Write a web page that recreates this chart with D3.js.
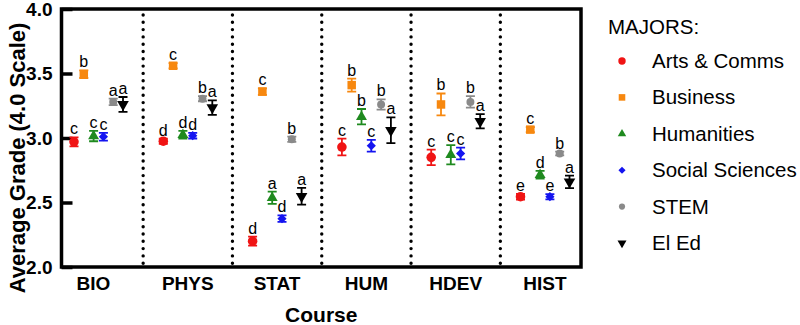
<!doctype html>
<html>
<head>
<meta charset="utf-8">
<script src="https://cdnjs.cloudflare.com/ajax/libs/d3/7.8.5/d3.min.js"></script>
<style>
  body { margin: 0; background: #fff; }
  svg { font-family: "Liberation Sans", Arial, sans-serif; }
  .frame { fill: none; stroke: #000; stroke-width: 3.5; }
  .sep { stroke: #000; stroke-width: 3.4; stroke-linecap: round; stroke-dasharray: 0 7.3; }
  .yaxis path { display: none; }
  .yaxis line { stroke: #000; stroke-width: 3.5; }
  .yaxis text { font-size: 19px; font-weight: bold; fill: #000; font-family: "Liberation Sans", Arial, sans-serif; }
  .xlab { font-size: 19px; font-weight: bold; }
  .title { font-size: 21px; font-weight: bold; }
  .ytitle { font-size: 22px; font-weight: bold; }
  .sig { font-size: 16px; fill: #000; }
  .leg { font-size: 20.5px; }
</style>
</head>
<body>
<svg width="800" height="325"></svg>
<script>
var courses = ["BIO", "PHYS", "STAT", "HUM", "HDEV", "HIST"];
var majors = ["Arts & Comms", "Business", "Humanities", "Social Sciences", "STEM", "El Ed"];
var colors = ["#f01414", "#f7880f", "#1f8a1f", "#1414f0", "#8a8a8a", "#000000"];
var yTicks = [2.0, 2.5, 3.0, 3.5, 4.0];

// mean grade per course, one array per major
var artsMean = [2.97, 2.975, 2.20, 2.93, 2.85, 2.545];
var businessMean = [3.495, 3.56, 3.36, 3.41, 3.26, 3.065];
var humanitiesMean = [3.015, 3.025, 2.537, 3.165, 2.87, 2.715];
var socialMean = [3.01, 3.018, 2.375, 2.94, 2.88, 2.545];
var stemMean = [3.28, 3.305, 2.99, 3.26, 3.28, 2.88];
var eledMean = [3.26, 3.235, 2.548, 3.06, 3.13, 2.66];

// error bar half widths
var artsErr = [0.035, 0.02, 0.035, 0.065, 0.06, 0.022];
var businessErr = [0.03, 0.02, 0.025, 0.05, 0.085, 0.02];
var humanitiesErr = [0.04, 0.03, 0.048, 0.06, 0.075, 0.03];
var socialErr = [0.03, 0.022, 0.025, 0.045, 0.045, 0.02];
var stemErr = [0.025, 0.02, 0.02, 0.04, 0.045, 0.015];
var eledErr = [0.058, 0.056, 0.065, 0.1, 0.055, 0.048];

// significance letters
var artsSig = ["c", "d", "d", "c", "c", "e"];
var businessSig = ["b", "c", "c", "b", "b", "c"];
var humanitiesSig = ["c", "d", "a", "b", "c", "d"];
var socialSig = ["c", "d", "d", "c", "c", "e"];
var stemSig = ["a", "b", "b", "b", "b", "b"];
var eledSig = ["a", "a", "a", "a", "a", "a"];

var means = [artsMean, businessMean, humanitiesMean, socialMean, stemMean, eledMean];
var errs = [artsErr, businessErr, humanitiesErr, socialErr, stemErr, eledErr];
var sigs = [artsSig, businessSig, humanitiesSig, socialSig, stemSig, eledSig];

var points = [];
majors.forEach(function (m, j) {
  courses.forEach(function (c, i) {
    points.push({ course: c, major: m, j: j, mean: means[j][i], err: errs[j][i], sig: sigs[j][i] });
  });
});

var svg = d3.select("svg");
var plotL = 61.5, plotR = 581, plotT = 9, plotB = 267;

var y = d3.scaleLinear().domain([2, 4]).range([plotB, plotT]);
var x = d3.scalePoint().domain(courses).range([98.5, 545]);
var off = d3.scalePoint().domain(majors).range([-24.5, 24.5]);
var step = x.step();

function marker(j, s) {
  if (j === 0) return d3.symbol(d3.symbolCircle, 72 * s)();
  if (j === 1) return d3.symbol(d3.symbolSquare, 72 * s)();
  if (j === 2) return d3.symbol(d3.symbolTriangle, 52 * s)();
  if (j === 3) { var r = 4.6 * Math.sqrt(s); return "M0," + (-r) + "L" + r + ",0L0," + r + "L" + (-r) + ",0Z"; }
  if (j === 4) return d3.symbol(d3.symbolCircle, 50 * s)();
  return d3.symbol(d3.symbolTriangle, 58 * s)();
}

// dotted separators
svg.selectAll("line.sep").data(courses.slice(1)).enter().append("line")
  .attr("class", "sep")
  .attr("x1", function (d) { return x(d) - step / 2; })
  .attr("x2", function (d) { return x(d) - step / 2; })
  .attr("y1", plotT + 6).attr("y2", plotB);

// y axis with inward ticks
svg.append("g").attr("class", "yaxis")
  .attr("transform", "translate(" + plotL + ",0)")
  .call(d3.axisLeft(y).tickValues(yTicks).tickFormat(d3.format(".1f")).tickSizeInner(-11).tickSizeOuter(0).tickPadding(9));

svg.append("rect").attr("class", "frame")
  .attr("x", plotL).attr("y", plotT).attr("width", plotR - plotL).attr("height", plotB - plotT);

// course labels
svg.selectAll("text.xlab").data(courses).enter().append("text")
  .attr("class", "xlab")
  .attr("x", function (d, i) { return i === 0 ? x(d) - 5 : x(d); })
  .attr("y", 290)
  .attr("text-anchor", "middle")
  .text(function (d) { return d; });

svg.append("text").attr("class", "title")
  .attr("x", (plotL + plotR) / 2).attr("y", 322)
  .attr("text-anchor", "middle").text("Course");

svg.append("text").attr("class", "ytitle")
  .attr("transform", "translate(25," + ((plotT + plotB) / 2 + 20) + ") rotate(-90)")
  .attr("text-anchor", "middle").text("Average Grade (4.0 Scale)");

// points
var g = svg.selectAll("g.pt").data(points).enter().append("g")
  .attr("class", "pt")
  .attr("transform", function (d) { return "translate(" + (x(d.course) + off(d.major)) + ",0)"; });

g.append("path")
  .attr("d", function (d) {
    var y1 = y(d.mean + d.err), y2 = y(d.mean - d.err), w = 4.5;
    return "M0," + y1 + "V" + y2 + "M" + (-w) + "," + y1 + "H" + w + "M" + (-w) + "," + y2 + "H" + w;
  })
  .attr("fill", "none")
  .attr("stroke", function (d) { return colors[d.j]; })
  .attr("stroke-width", 1.8);

g.append("path")
  .attr("d", function (d) { return marker(d.j, 1); })
  .attr("transform", function (d) { return "translate(0," + y(d.mean) + ")" + (d.j === 5 ? " rotate(180)" : ""); })
  .attr("fill", function (d) { return colors[d.j]; });

g.append("text").attr("class", "sig")
  .attr("y", function (d) { return y(d.mean + d.err) - 3; })
  .attr("text-anchor", "middle")
  .text(function (d) { return d.sig; });

// legend
var leg = svg.append("g").attr("transform", "translate(608,0)");
leg.append("text").attr("class", "leg").attr("x", 0).attr("y", 34).text("MAJORS:");
var items = leg.selectAll("g.item").data(majors).enter().append("g")
  .attr("class", "item")
  .attr("transform", function (d, i) { return "translate(0," + (61 + i * 36.4) + ")"; });
items.append("path")
  .attr("d", function (d, i) { return marker(i, 0.6); })
  .attr("transform", function (d, i) { return "translate(14,0)" + (i === 5 ? " rotate(180)" : ""); })
  .attr("fill", function (d, i) { return colors[i]; });
items.append("text").attr("class", "leg")
  .attr("x", 44).attr("y", 7)
  .text(function (d) { return d; });
</script>
</body>
</html>
